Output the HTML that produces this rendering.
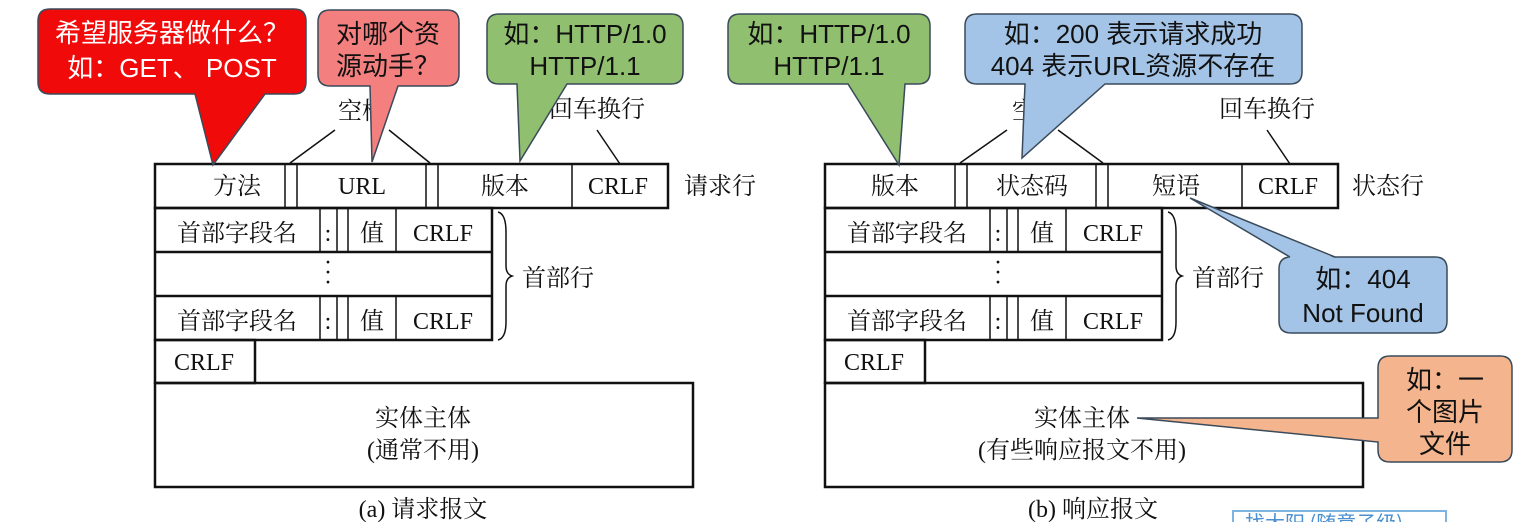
<!DOCTYPE html>
<html><head><meta charset="utf-8"><style>
body{margin:0;background:#fff;width:1515px;height:522px;overflow:hidden}
svg{display:block}
.s{font-family:"Liberation Serif","Noto Serif CJK SC",serif;font-size:24px;fill:#111}
.c{font-family:"Liberation Sans","Noto Sans CJK SC",sans-serif;font-size:26px;fill:#111}
</style></head><body>
<svg width="1515" height="522" viewBox="0 0 1515 522" xmlns="http://www.w3.org/2000/svg">
<defs>
<g id="d">
 <g fill="none" stroke="#111" stroke-width="2.5">
  <rect x="155" y="164" width="513" height="44"/>
  <rect x="155" y="208" width="337" height="132"/>
  <line x1="155" y1="252" x2="492" y2="252"/>
  <line x1="155" y1="296" x2="492" y2="296"/>
  <rect x="155" y="340" width="100" height="43"/>
  <rect x="155" y="383" width="538" height="104"/>
 </g>
 <g stroke="#111" stroke-width="1.5">
  <line x1="285" y1="164" x2="285" y2="208"/><line x1="297" y1="164" x2="297" y2="208"/>
  <line x1="426" y1="164" x2="426" y2="208"/><line x1="438" y1="164" x2="438" y2="208"/>
  <line x1="572" y1="164" x2="572" y2="208"/>
  <line x1="320" y1="208" x2="320" y2="252"/><line x1="337" y1="208" x2="337" y2="252"/><line x1="348" y1="208" x2="348" y2="252"/><line x1="396" y1="208" x2="396" y2="252"/>
  <line x1="320" y1="296" x2="320" y2="340"/><line x1="337" y1="296" x2="337" y2="340"/><line x1="348" y1="296" x2="348" y2="340"/><line x1="396" y1="296" x2="396" y2="340"/>
  <line x1="620" y1="164" x2="597" y2="130"/>
 </g>
 <path d="M498 212 Q506 214 506 232 L506 266 Q506 274 512 276 Q506 278 506 286 L506 322 Q506 338 498 340" fill="none" stroke="#111" stroke-width="1.5"/>
 <g class="s" text-anchor="middle">
 <text x="597" y="117">回车换行</text>
 <text x="618" y="194">CRLF</text>
 <text x="237" y="241">首部字段名</text>
 <text x="328" y="241">:</text>
 <text x="372" y="241">值</text>
 <text x="443" y="241">CRLF</text>
 <text x="328" y="270">·</text><text x="328" y="280">·</text><text x="328" y="290">·</text>
 <text x="237" y="329">首部字段名</text>
 <text x="328" y="329">:</text>
 <text x="372" y="329">值</text>
 <text x="443" y="329">CRLF</text>
 <text x="558" y="286">首部行</text>
 <text x="204" y="370">CRLF</text>
 </g>
</g>
</defs>
<use href="#d"/>
<use href="#d" transform="translate(670,0)"/>
<g class="s" text-anchor="middle">
 <text x="237" y="194">方法</text><text x="362" y="194">URL</text><text x="505" y="194">版本</text>
 <text x="720" y="194">请求行</text>
 <text x="423" y="426">实体主体</text><text x="423" y="458">(通常不用)</text>
 <text x="423" y="517">(a) 请求报文</text>
 <text x="895" y="194">版本</text><text x="1032" y="194">状态码</text><text x="1176" y="194">短语</text>
 <text x="1388" y="194">状态行</text>
 <text x="1082" y="426">实体主体</text><text x="1082" y="458">(有些响应报文不用)</text>
 <text x="1093" y="517">(b) 响应报文</text>
</g>
<g stroke="#111" stroke-width="1.5">
 <line x1="290" y1="163" x2="335" y2="130"/><line x1="389" y1="130" x2="430" y2="163"/>
 <line x1="960" y1="163" x2="1007" y2="130"/><line x1="1058" y1="130" x2="1103" y2="163"/>
</g>
<g class="s" text-anchor="middle"><text x="362" y="119">空格</text><text x="1036" y="119">空格</text></g>
<g stroke="#3a4a5a" stroke-width="1.5">
 <path d="M50 9 H294 Q306 9 306 21 V82 Q306 94 294 94 H265 L213 165 L195 94 H50 Q38 94 38 82 V21 Q38 9 50 9Z" fill="#f00a0a"/>
 <path d="M330 10 H447 Q459 10 459 22 V74 Q459 86 447 86 H398 L372 162 L370 86 H330 Q318 86 318 74 V22 Q318 10 330 10Z" fill="#f47f7f"/>
 <path d="M499 14 H671 Q683 14 683 26 V72 Q683 84 671 84 H567 L520 161 L517 84 H499 Q487 84 487 72 V26 Q487 14 499 14Z" fill="#8fbf6f"/>
 <path d="M740 14 H918 Q930 14 930 26 V72 Q930 84 918 84 H905 L899 165 L848 84 H740 Q728 84 728 72 V26 Q728 14 740 14Z" fill="#8fbf6f"/>
 <path d="M977 14 H1290 Q1302 14 1302 26 V72 Q1302 84 1290 84 H1105 L1022 158 L1025 84 H977 Q965 84 965 72 V26 Q965 14 977 14Z" fill="#a3c4e6"/>
 <path d="M1291 257 H1435 Q1447 257 1447 269 V321 Q1447 333 1435 333 H1291 Q1279 333 1279 321 V269 Q1279 257 1291 257Z" fill="#a3c4e6"/>
 <path d="M1290 258 L1190 198 L1335 258Z" fill="#a3c4e6" stroke="none"/>
 <path d="M1290 257 L1190 198 L1335 257" fill="none"/>
 <path d="M1390 356 H1500 Q1512 356 1512 368 V450 Q1512 462 1500 462 H1390 Q1378 462 1378 450 V442 L1137 418 L1378 418 V368 Q1378 356 1390 356Z" fill="#f4b58e"/>
</g>
<g class="c" text-anchor="middle">
 <text x="172" y="42" style="fill:#fff">希望服务器做什么？</text>
 <text x="172" y="77" style="fill:#fff">如：GET、 POST</text>
 <text x="388" y="43">对哪个资</text><text x="388" y="75">源动手？</text>
 <text x="585" y="43">如：HTTP/1.0</text><text x="585" y="75">HTTP/1.1</text>
 <text x="829" y="43">如：HTTP/1.0</text><text x="829" y="75">HTTP/1.1</text>
 <text x="1133" y="43">如：200 表示请求成功</text><text x="1133" y="75">404 表示URL资源不存在</text>
 <text x="1363" y="288">如：404</text><text x="1363" y="322">Not Found</text>
 <text x="1445" y="389">如：一</text><text x="1445" y="421">个图片</text><text x="1445" y="453">文件</text>
</g>
<rect x="1233" y="511" width="213" height="14" fill="none" stroke="#7fb4e0" stroke-width="2"/>
<text x="1245" y="530" style="font-family:'Noto Sans CJK SC',sans-serif;font-size:20px;fill:#4a8fd0">找大阳 (随意子级)</text>
</svg>
</body></html>
